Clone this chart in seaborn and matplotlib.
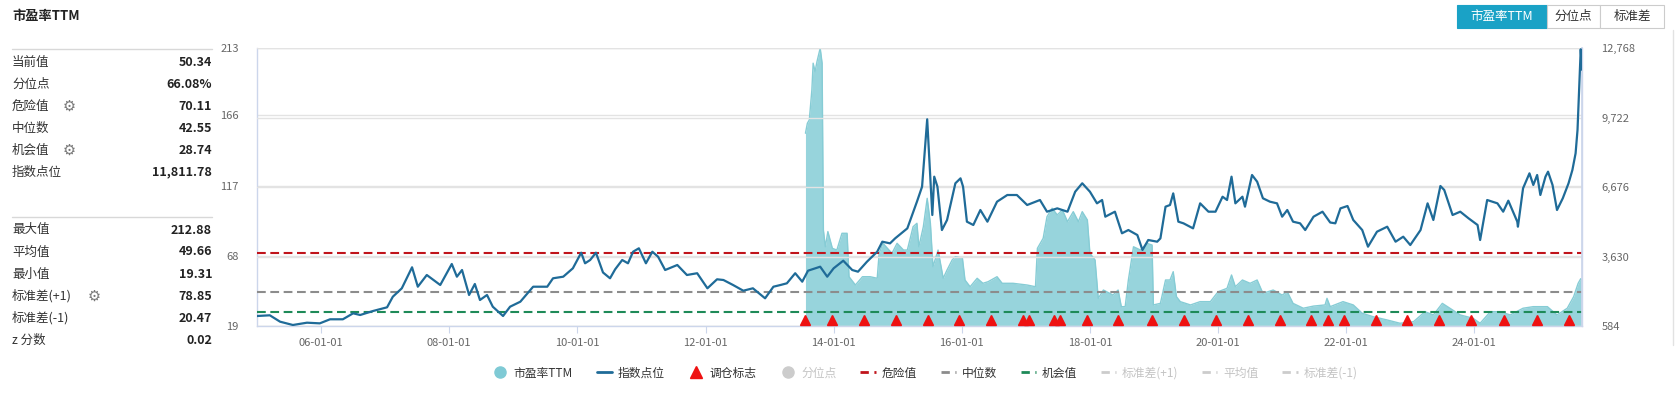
import matplotlib
matplotlib.use("Agg")
import matplotlib.pyplot as plt
from matplotlib.lines import Line2D
from matplotlib.patches import Rectangle
import seaborn as sns

# index level (right axis), decimal years
idx_years = [2005.00, 2005.20, 2005.36, 2005.56, 2005.78, 2005.98, 2006.14, 2006.34, 2006.50, 2006.61,
             2006.81, 2007.03, 2007.12, 2007.26, 2007.42, 2007.51, 2007.65, 2007.86, 2008.04, 2008.12,
             2008.20, 2008.31, 2008.40, 2008.48, 2008.59, 2008.68, 2008.84, 2008.95, 2009.11, 2009.31,
             2009.53, 2009.62, 2009.78, 2009.93, 2010.06, 2010.12, 2010.20, 2010.29, 2010.40, 2010.51,
             2010.59, 2010.70, 2010.79, 2010.87, 2010.96, 2011.07, 2011.17, 2011.26, 2011.37, 2011.56,
             2011.71, 2011.87, 2012.03, 2012.18, 2012.28, 2012.43, 2012.59, 2012.74, 2012.93, 2013.06,
             2013.17, 2013.27, 2013.40, 2013.51, 2013.60, 2013.79, 2013.90, 2014.00, 2014.15, 2014.29,
             2014.38, 2014.52, 2014.68, 2014.76, 2014.88, 2014.96, 2015.15, 2015.30, 2015.38, 2015.46,
             2015.54, 2015.57, 2015.62, 2015.69, 2015.77, 2015.90, 2015.98, 2016.02, 2016.08, 2016.18,
             2016.29, 2016.40, 2016.55, 2016.71, 2016.86, 2017.02, 2017.22, 2017.33, 2017.49, 2017.65,
             2017.77, 2017.88, 2018.00, 2018.11, 2018.19, 2018.24, 2018.39, 2018.50, 2018.60, 2018.74,
             2018.82, 2018.91, 2019.05, 2019.10, 2019.18, 2019.25, 2019.30, 2019.38, 2019.46, 2019.61,
             2019.72, 2019.85, 2019.96, 2020.07, 2020.14, 2020.21, 2020.27, 2020.38, 2020.42, 2020.53,
             2020.61, 2020.70, 2020.81, 2020.92, 2021.00, 2021.08, 2021.17, 2021.28, 2021.36, 2021.49,
             2021.63, 2021.75, 2021.83, 2021.91, 2022.02, 2022.11, 2022.25, 2022.34, 2022.48, 2022.64,
             2022.77, 2022.89, 2023.00, 2023.16, 2023.27, 2023.36, 2023.47, 2023.53, 2023.66, 2023.78,
             2023.91, 2024.05, 2024.09, 2024.20, 2024.36, 2024.45, 2024.53, 2024.67, 2024.68, 2024.76,
             2024.86, 2024.92, 2024.98, 2025.03, 2025.11, 2025.15, 2025.22, 2025.29, 2025.38, 2025.47,
             2025.53, 2025.58, 2025.61, 2025.64, 2025.66, 2025.68]
idx_values = [1022, 1053, 773, 628, 729, 700, 878, 878, 1140, 1066,
              1241, 1403, 1868, 2236, 3157, 2306, 2819, 2381, 3302, 2745,
              3038, 1943, 2425, 1724, 1943, 1430, 1022, 1430, 1649, 2306,
              2306, 2675, 2745, 3113, 3797, 3332, 3477, 3797, 2930, 2675,
              3069, 3477, 3332, 3840, 3990, 3332, 3840, 3621, 3038, 3258,
              2819, 2897, 2236, 2631, 2600, 2381, 2131, 2236, 1798, 2306,
              2381, 2455, 2897, 2526, 3008, 3183, 2745, 3113, 3446, 3038,
              2964, 3402, 3840, 4279, 4206, 4425, 4863, 6032, 6689, 9644,
              5449, 7128, 6689, 4790, 5230, 6839, 7056, 6689, 5156, 5011,
              5668, 5156, 6032, 6325, 6325, 5887, 6106, 5594, 5740, 5594,
              6470, 6839, 6470, 5960, 6106, 5375, 5594, 4647, 4790, 4571,
              3915, 4353, 4279, 4425, 5813, 5887, 6397, 5156, 5084, 4863,
              5960, 5594, 5594, 6251, 6106, 7128, 5960, 6251, 5813, 7202,
              6908, 6181, 6032, 5960, 5375, 5668, 5156, 5084, 4790, 5375,
              5594, 5120, 5084, 5740, 5843, 5230, 4790, 4060, 4717, 4936,
              4279, 4498, 4133, 4790, 5960, 5230, 6720, 6545, 5449, 5594,
              5302, 5011, 4353, 6106, 5960, 5594, 6076, 5156, 4936, 6620,
              7275, 6764, 7202, 6325, 7128, 7347, 6764, 5668, 6181, 6839,
              7421, 8152, 9175, 11366, 12712, 11812]

# PE TTM (left axis)
pe_years = [2013.56, 2013.59, 2013.62, 2013.66, 2013.68, 2013.71, 2013.74, 2013.79, 2013.82, 2013.84,
            2013.87, 2013.91, 2013.98, 2014.05, 2014.13, 2014.21, 2014.24, 2014.34, 2014.45, 2014.57,
            2014.68, 2014.71, 2014.77, 2014.91, 2014.99, 2015.09, 2015.15, 2015.24, 2015.30, 2015.33,
            2015.40, 2015.46, 2015.51, 2015.55, 2015.63, 2015.71, 2015.77, 2015.85, 2015.90, 2016.01,
            2016.05, 2016.13, 2016.24, 2016.33, 2016.41, 2016.55, 2016.63, 2016.80, 2017.02, 2017.15,
            2017.18, 2017.27, 2017.33, 2017.41, 2017.49, 2017.57, 2017.65, 2017.74, 2017.82, 2017.88,
            2017.96, 2018.00, 2018.08, 2018.13, 2018.21, 2018.36, 2018.44, 2018.49, 2018.55, 2018.60,
            2018.68, 2018.79, 2018.89, 2018.97, 2018.99, 2019.10, 2019.18, 2019.25, 2019.30, 2019.35,
            2019.41, 2019.57, 2019.72, 2019.88, 2020.00, 2020.14, 2020.21, 2020.27, 2020.38, 2020.50,
            2020.61, 2020.70, 2020.86, 2021.00, 2021.08, 2021.17, 2021.33, 2021.49, 2021.67, 2021.70,
            2021.75, 2021.95, 2022.11, 2022.25, 2022.42, 2022.64, 2022.84, 2023.05, 2023.23, 2023.36,
            2023.50, 2023.58, 2023.78, 2023.98, 2024.09, 2024.25, 2024.40, 2024.56, 2024.76, 2024.92,
            2025.14, 2025.29, 2025.45, 2025.55, 2025.62, 2025.66, 2025.68]
pe_values = [153.5, 160.5, 162.8, 183.7, 202.4, 196.5, 203.5, 212.9, 202.4, 86.0,
             74.3, 84.9, 73.2, 72.0, 83.7, 83.7, 53.4, 47.6, 53.4, 53.4,
             52.3, 69.7, 76.7, 69.7, 76.7, 72.0, 72.0, 88.3, 90.7, 74.3,
             88.3, 108.1, 90.7, 60.4, 72.0, 52.3, 58.1, 65.1, 67.4, 66.3,
             51.1, 46.4, 52.3, 48.8, 49.9, 53.4, 48.8, 48.8, 47.6, 46.4,
             73.2, 80.2, 95.3, 101.2, 96.5, 100.0, 91.8, 98.8, 91.8, 98.8,
             93.0, 69.7, 65.1, 38.3, 44.1, 40.6, 44.1, 32.5, 32.5, 51.1,
             74.3, 72.0, 76.7, 75.5, 33.7, 34.8, 51.1, 51.1, 56.9, 39.5,
             36.0, 33.7, 36.0, 36.0, 42.9, 45.3, 54.6, 46.4, 51.1, 48.8,
             51.1, 41.8, 44.1, 40.6, 42.9, 34.8, 31.4, 32.9, 33.7, 38.3,
             32.5, 36.0, 33.7, 27.9, 25.5, 23.2, 20.9, 22.0, 29.0, 26.7,
             34.8, 32.5, 26.7, 24.4, 20.9, 29.0, 29.0, 26.7, 31.4, 32.5,
             32.5, 26.7, 31.4, 39.5, 48.8, 52.0, 50.34]

rebalance_years = [2013.56, 2013.98, 2014.48, 2014.98, 2015.47, 2015.96, 2016.46, 2016.96, 2017.05,
                   2017.44, 2017.54, 2017.96, 2018.44, 2018.97, 2019.47, 2019.97, 2020.47, 2020.97,
                   2021.45, 2021.72, 2021.97, 2022.47, 2022.95, 2023.45, 2023.95, 2024.47, 2024.97,
                   2025.47]

danger_value = 70.11
median_value = 42.55
chance_value = 28.74

left_ticks = [19, 68, 117, 166, 213]
right_ticks = [584, 3630, 6676, 9722, 12768]
right_labels = ["584", "3,630", "6,676", "9,722", "12,768"]
x_ticks = [2006, 2008, 2010, 2012, 2014, 2016, 2018, 2020, 2022, 2024]
x_labels = ["06-01-01", "08-01-01", "10-01-01", "12-01-01", "14-01-01",
            "16-01-01", "18-01-01", "20-01-01", "22-01-01", "24-01-01"]

stats_top_names = ["当前值", "分位点", "危险值", "中位数", "机会值", "指数点位"]
stats_top_values = ["50.34", "66.08%", "70.11", "42.55", "28.74", "11,811.78"]
stats_bottom_names = ["最大值", "平均值", "最小值", "标准差(+1)", "标准差(-1)", "z 分数"]
stats_bottom_values = ["212.88", "49.66", "19.31", "78.85", "20.47", "0.02"]
gear_rows = {"危险值": 69, "机会值": 69, "标准差(+1)": 94}

legend_labels = ["市盈率TTM", "指数点位", "调仓标志", "分位点", "危险值", "中位数", "机会值",
                 "标准差(+1)", "平均值", "标准差(-1)"]
legend_active = [True, True, True, False, True, True, True, False, False, False]

PE_FILL = "#97d4dc"
PE_EDGE = "#86ccd5"
IDX_COLOR = "#1f6b98"
RED = "#c0141b"
GRAY = "#8c8c8c"
GREEN = "#1e8a58"
TEAL = "#1aa2c6"

sns.set_theme(style="white")
plt.rcParams["font.family"] = ["Noto Sans CJK SC", "DejaVu Sans"]

W, H = 1679, 395
fig = plt.figure(figsize=(W / 100, H / 100), dpi=100)


def fx(x):
    return x / W


def fy(y):
    return 1 - y / H


ax = fig.add_axes([fx(257), fy(326), fx(1582) - fx(257), fy(48) - fy(326)])
ax2 = ax.twinx()

# PE area
ax.fill_between(pe_years, 19, pe_values, color=PE_FILL, lw=0, zorder=1)
sns.lineplot(x=pe_years, y=pe_values, ax=ax, color=PE_EDGE, lw=1, zorder=2)

for val, col in [(danger_value, RED), (median_value, GRAY), (chance_value, GREEN)]:
    ax.axhline(val, color=col, lw=1.5, dashes=(4.2, 2.2), zorder=3)

ax.set_xlim(2005.0, 2025.68)
ax.set_ylim(19, 213)
ax.set_yticks(left_ticks)
ax.set_yticklabels([str(t) for t in left_ticks])
ax.set_xticks(x_ticks)
ax.set_xticklabels(x_labels)
ax.yaxis.grid(True, color="#e3e3e3", lw=1)
ax.set_axisbelow(True)
ax.tick_params(axis="y", length=0, pad=13, labelsize=8, labelcolor="#666666")
ax.tick_params(axis="x", length=5, width=0.8, color="#ccd6eb", pad=4, labelsize=8,
               labelcolor="#666666", bottom=True)
ax.spines["top"].set_visible(False)
for side in ["left", "right", "bottom"]:
    ax.spines[side].set_color("#ccd6eb")
    ax.spines[side].set_linewidth(1)

# index line
sns.lineplot(x=idx_years, y=idx_values, ax=ax2, color=IDX_COLOR, lw=1.6, zorder=4)
ax2.set_ylim(584, 12768)
ax2.set_yticks(right_ticks)
ax2.set_yticklabels(right_labels)
ax2.yaxis.grid(True, color="#e3e3e3", lw=1, zorder=0)
ax2.tick_params(axis="y", length=0, pad=14, labelsize=8, labelcolor="#666666")
for side in ["top", "left", "bottom"]:
    ax2.spines[side].set_visible(False)
ax2.spines["right"].set_color("#ccd6eb")
ax2.set_ylabel("")
ax.set_ylabel("")

# rebalance markers
ax2.plot(rebalance_years, [0.022] * len(rebalance_years), transform=ax2.get_xaxis_transform(),
         linestyle="None", marker="^", color="#ee1111", markersize=7.5, zorder=6, clip_on=False)

# left info panel
fam = ["Noto Sans CJK SC", "DejaVu Sans"]
fig.text(fx(12), fy(16), "市盈率TTM", fontsize=9.5, fontweight="bold", color="#222222",
         va="center", ha="left", family=fam)
for y_line in [49, 217]:
    fig.add_artist(Line2D([fx(12), fx(212)], [fy(y_line), fy(y_line)], color="#d8d8d8", lw=1))

for start, names, values in [(62, stats_top_names, stats_top_values),
                             (230, stats_bottom_names, stats_bottom_values)]:
    for i, (n, v) in enumerate(zip(names, values)):
        y = start + i * 22
        fig.text(fx(12), fy(y), n, fontsize=9, color="#333333", va="center", ha="left", family=fam)
        fig.text(fx(212), fy(y), v, fontsize=9, fontweight="bold", color="#222222",
                 va="center", ha="right", family=fam)
        if n in gear_rows:
            fig.text(fx(gear_rows[n]), fy(y), "\u2699", fontsize=10.5, color="#777777",
                     va="center", ha="center", family=["DejaVu Sans"])

# buttons top right
buttons = [("市盈率TTM", 1457, 1547, True), ("分位点", 1547, 1600, False), ("标准差", 1600, 1664, False)]
for label, x0, x1, active in buttons:
    fig.add_artist(Rectangle((fx(x0), fy(28)), fx(x1) - fx(x0), fy(5) - fy(28),
                             facecolor=TEAL if active else "white",
                             edgecolor=TEAL if active else "#cccccc", lw=0.8))
    fig.text(fx((x0 + x1) / 2), fy(16.5), label, fontsize=9, color="white" if active else "#333333",
             va="center", ha="center", family=fam)

# right container edge
fig.add_artist(Line2D([fx(1673), fx(1673)], [fy(30), fy(345)], color="#e2e2e2", lw=1))

# legend
dashdot = (0, (3, 2, 1, 2))
handles = [
    Line2D([], [], marker="o", linestyle="None", color="#7fcad5", markersize=8),
    Line2D([], [], color=IDX_COLOR, lw=2),
    Line2D([], [], marker="^", linestyle="None", color="#ee1111", markersize=8),
    Line2D([], [], marker="o", linestyle="None", color="#cccccc", markersize=8),
    Line2D([], [], color=RED, lw=2, linestyle=dashdot),
    Line2D([], [], color=GRAY, lw=2, linestyle=dashdot),
    Line2D([], [], color=GREEN, lw=2, linestyle=dashdot),
    Line2D([], [], color="#cccccc", lw=2, linestyle=dashdot),
    Line2D([], [], color="#cccccc", lw=2, linestyle=dashdot),
    Line2D([], [], color="#cccccc", lw=2, linestyle=dashdot),
]
leg = fig.legend(handles, legend_labels, loc="center", bbox_to_anchor=(fx(925), fy(373)),
                 ncol=10, frameon=False, prop={"family": fam, "size": 8.5},
                 handlelength=1.3, handletextpad=0.5, columnspacing=2.0)
for txt, act in zip(leg.get_texts(), legend_active):
    txt.set_color("#333333" if act else "#c4c4c4")

fig.savefig("out.png", dpi=100)
